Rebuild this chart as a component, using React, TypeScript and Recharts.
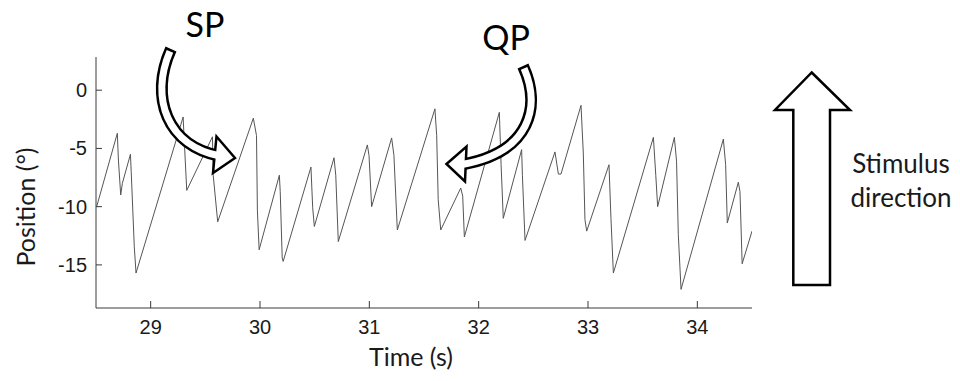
import React from 'react';
import { LineChart, Line, XAxis, YAxis } from 'recharts';

// eye position trace (s, deg)
const TIME = [
  28.506, 28.695, 28.705, 28.726, 28.741, 28.815, 28.822, 28.85, 28.866,
  29.297, 29.305, 29.33, 29.565, 29.572, 29.613, 29.939, 29.968, 29.976,
  29.992, 30.177, 30.185, 30.203, 30.212, 30.466, 30.482, 30.497, 30.677,
  30.693, 30.716, 30.982, 30.997, 31.021, 31.204, 31.225, 31.256, 31.6,
  31.616, 31.63, 31.653, 31.836, 31.854, 31.869, 32.189, 32.205, 32.225,
  32.393, 32.4, 32.424, 32.698, 32.729, 32.753, 32.936, 32.957, 32.972,
  32.988, 33.192, 33.21, 33.232, 33.598, 33.62, 33.637, 33.79, 33.81,
  33.826, 33.851, 34.238, 34.259, 34.274, 34.375, 34.39, 34.406, 34.41,
  34.5,
];
const POSITION = [
  -10.0, -3.7, -6.0, -9.0, -8.0, -5.5, -7.0, -13.4, -15.7,
  -2.3, -3.9, -8.6, -4.0, -7.3, -11.3, -2.4, -3.9, -10.3,
  -13.7, -7.3, -8.7, -14.4, -14.7, -6.6, -10.1, -11.7, -5.8,
  -7.3, -13.0, -4.7, -5.6, -10.0, -4.1, -5.6, -12.0, -1.6,
  -3.9, -9.4, -12.0, -8.4, -9.1, -12.6, -1.9, -6.4, -11.0,
  -5.1, -7.3, -12.9, -5.3, -7.2, -7.2, -1.3, -5.4, -11.1,
  -12.1, -6.4, -11.0, -15.7, -4.05, -7.3, -10.0, -4.05, -6.1,
  -12.4, -17.1, -4.2, -6.4, -11.4, -7.9, -8.7, -13.7, -14.9,
  -12.1,
];
const X_TICKS = [29, 30, 31, 32, 33, 34];
const Y_TICKS = [-15, -10, -5, 0];

const data = TIME.map((t, i) => ({ t, p: POSITION[i] }));

const LABEL_FONT = 'Lato, "Open Sans", sans-serif';
const TICK_FONT = '"Liberation Sans", Arial, sans-serif';
const INK = '#1a1a1a';

// hollow curved arrow: thick black body, white core, open head
const HollowArrow = ({ d, head }: { d: string; head: string }) => (
  <g>
    <path d={d} fill='none' stroke='#000' strokeWidth={12} />
    <polygon points={head} fill='#fff' stroke='#000' strokeWidth={2.5} strokeLinejoin='miter' />
    <path d={d} fill='none' stroke='#fff' strokeWidth={7} strokeDasharray='0 2.6 10000' />
  </g>
);

const XTick = (props: any) => {
  const { x, y, payload } = props;
  return (
    <text x={x} y={y} dy={14} textAnchor='middle' fill={INK} fontSize={20} fontFamily={TICK_FONT}>
      {payload.value}
    </text>
  );
};

const YTick = (props: any) => {
  const { x, y, payload } = props;
  return (
    <text x={x} y={y} dy={7} textAnchor='end' fill={INK} fontSize={20} fontFamily={TICK_FONT}>
      {payload.value}
    </text>
  );
};

export default function App() {
  return (
    <div style={{ position: 'relative', width: 960, height: 381, margin: -8, background: '#fff' }}>
      <LineChart
        width={960}
        height={381}
        data={data}
        margin={{ top: 57, right: 208, left: 36, bottom: 43 }}
      >
        <XAxis
          dataKey='t'
          type='number'
          domain={[28.5, 34.5]}
          ticks={X_TICKS}
          allowDataOverflow
          height={30}
          stroke='#3a3a3a'
          tickSize={-7}
          tickMargin={19}
          tick={<XTick />}
          label={{
            content: () => (
              <text x={411} y={366} textAnchor='middle' fill={INK} fontSize={25} fontFamily={LABEL_FONT}>
                Time (s)
              </text>
            ),
          }}
        />
        <YAxis
          type='number'
          domain={[-18.7, 2.85]}
          ticks={Y_TICKS}
          allowDataOverflow
          width={60}
          stroke='#3a3a3a'
          tickSize={-6}
          tickMargin={15}
          tick={<YTick />}
          label={{
            content: () => (
              <text
                x={25}
                y={207}
                transform='rotate(-90, 25, 207)'
                textAnchor='middle'
                dominantBaseline='central'
                fill={INK}
                fontSize={25}
                fontFamily={LABEL_FONT}
              >
                Position (°)
              </text>
            ),
          }}
        />
        <Line
          type='linear'
          dataKey='p'
          stroke='#555'
          strokeWidth={1}
          dot={false}
          isAnimationActive={false}
        />
      </LineChart>

      <svg
        width={960}
        height={381}
        style={{ position: 'absolute', left: 0, top: 0, pointerEvents: 'none' }}
      >
        <text x={205} y={37} textAnchor='middle' fontSize={34} fontFamily={LABEL_FONT} fill='#000'>
          SP
        </text>
        <text x={506} y={50} textAnchor='middle' fontSize={34} fontFamily={LABEL_FONT} fill='#000'>
          QP
        </text>

        <HollowArrow
          d='M 171 49 C 149 97, 167 146, 220 156'
          head='235,158 216.5,136.5 213,173'
        />
        <HollowArrow
          d='M 523 66 C 541 105, 532 152, 462 164.5'
          head='446.5,164 466.5,146.5 465,181.5'
        />

        <polygon
          points='811.7,72.5 850,110 830,110 830,285 793.3,285 793.3,110 775,110'
          fill='#fff'
          stroke='#000'
          strokeWidth={2.5}
          strokeLinejoin='miter'
        />
        <text x={901} y={173} textAnchor='middle' fontSize={26} fontFamily={LABEL_FONT} fill={INK}>
          Stimulus
        </text>
        <text x={901} y={207} textAnchor='middle' fontSize={26} fontFamily={LABEL_FONT} fill={INK}>
          direction
        </text>
      </svg>
    </div>
  );
}
